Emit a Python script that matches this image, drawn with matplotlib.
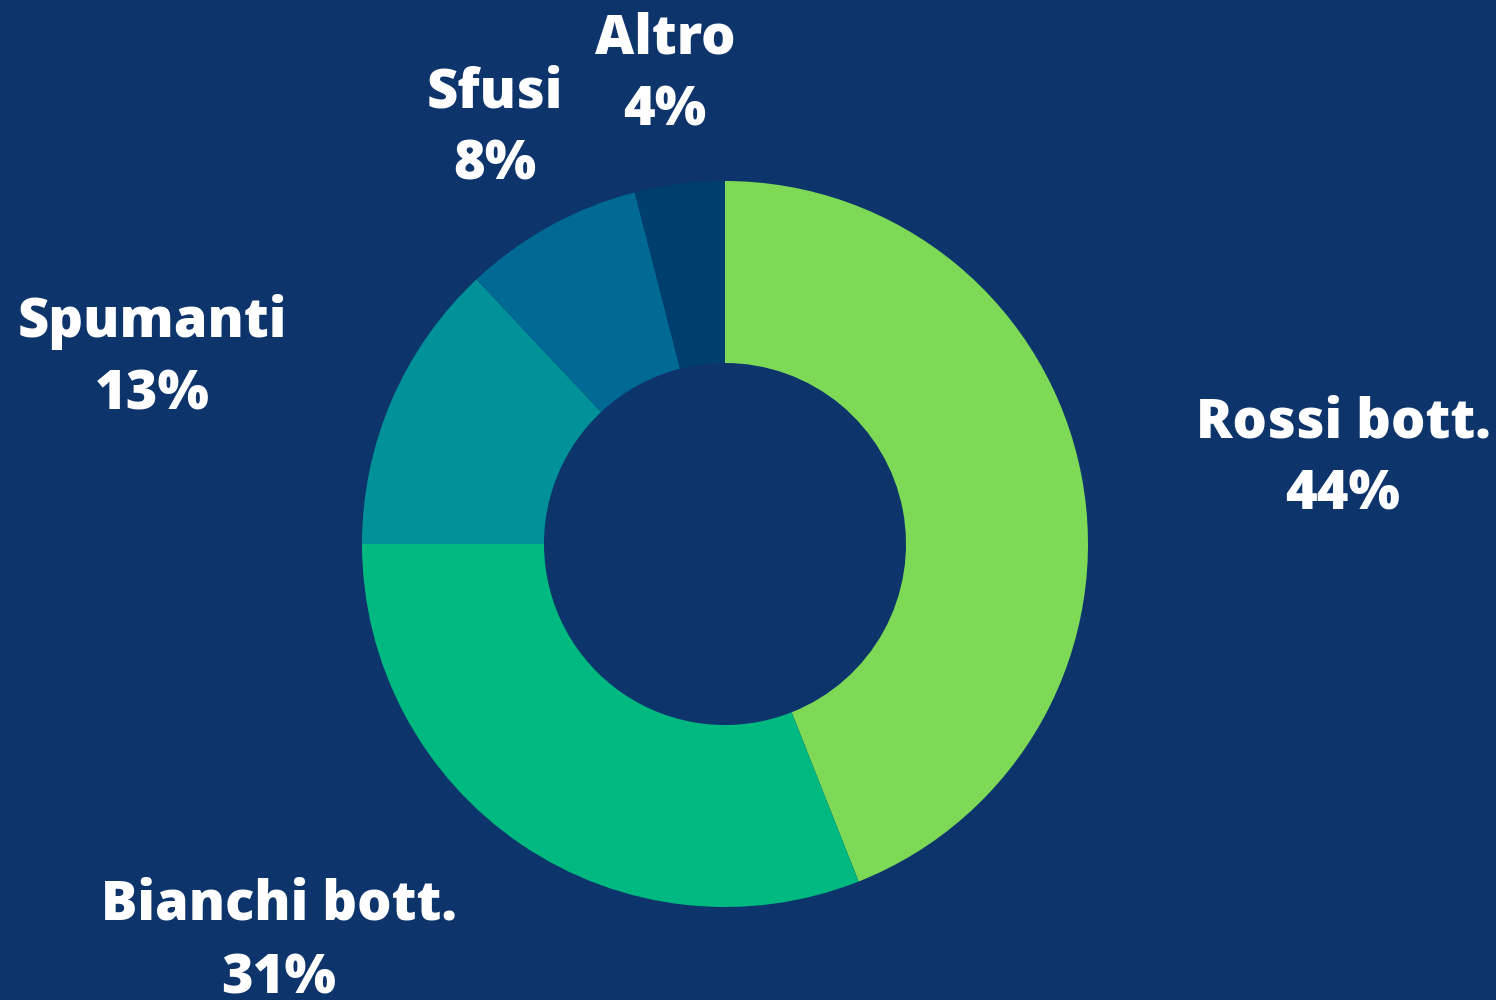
import matplotlib
matplotlib.use("Agg")
import matplotlib.pyplot as plt

categories = ["Rossi bott.", "Bianchi bott.", "Spumanti", "Sfusi", "Altro"]
values = [44, 31, 13, 8, 4]
colors = ["#7ed957", "#00b980", "#009199", "#006a94", "#003f6d"]
bg = "#0d346b"

# label anchor positions in pixel coords (x center, baseline y of first line)
label_pos = {
    "Rossi bott.": (1343, 437),
    "Bianchi bott.": (279, 920),
    "Spumanti": (152, 337),
    "Sfusi": (495, 107),
    "Altro": (665, 53),
}
line_gap = 73

W, H = 1496, 1000
fig = plt.figure(figsize=(W / 100, H / 100), dpi=100, facecolor=bg)
ax = fig.add_axes([0, 0, 1, 1])
ax.set_facecolor(bg)

cx, cy, r = 725, H - 544, 363
ax.pie(values, colors=colors, startangle=90, counterclock=False,
       center=(cx, cy), radius=r, frame=True,
       wedgeprops=dict(width=r - 181, linewidth=0))
ax.set_xlim(0, W)
ax.set_ylim(0, H)
ax.set_aspect("equal")
ax.axis("off")

for cat, v in zip(categories, values):
    x, y = label_pos[cat]
    ax.text(x, H - y, cat, ha="center", va="baseline", color="white",
            fontsize=39, fontweight=800, family="Open Sans")
    ax.text(x, H - y - line_gap, f"{v}%", ha="center", va="baseline", color="white",
            fontsize=39, fontweight=800, family="Open Sans")

fig.savefig("out.png", dpi=100, facecolor=bg)
